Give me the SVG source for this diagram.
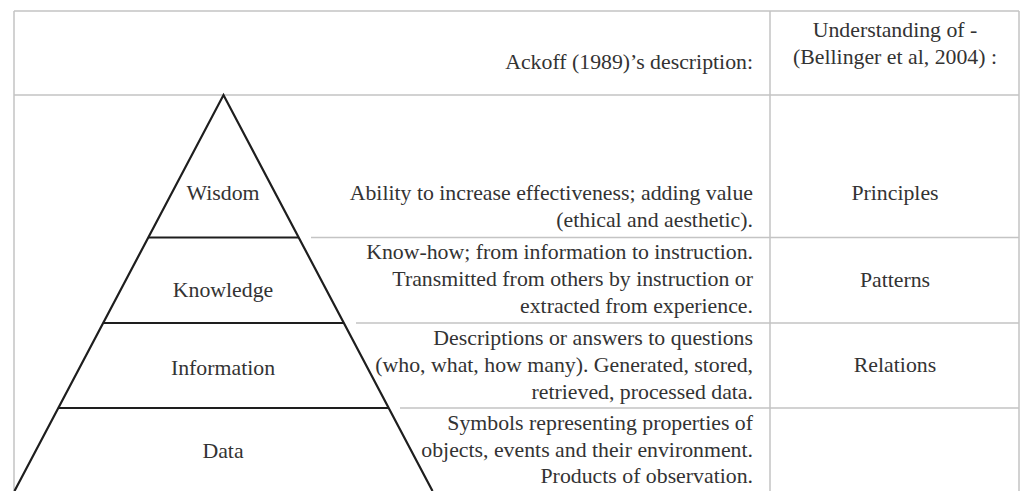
<svg xmlns="http://www.w3.org/2000/svg" width="1022" height="491" viewBox="0 0 1022 491">
<style>
.grid{stroke:#c4c4c4;stroke-width:1.5;fill:none}
.pyr{stroke:#1e1e1e;stroke-width:2.2;fill:none;stroke-linejoin:miter}
text{font-family:'Liberation Serif','Tinos','Noto Serif','DejaVu Serif','Times New Roman',serif;font-size:21.8px;fill:#333}
.r{text-anchor:end}
.c{text-anchor:middle}
</style>
<rect width="1022" height="491" fill="#fff"/>
<g id="table">
<path class="grid" d="M14,11 H1019 M14,11 V491 M770,11 V491 M1019,11 V491 M14,95 H1019 M311,237.5 H1019 M356,323 H1019 M400,408 H1019"/>
</g>
<g id="header">
<text class="r" x="753" y="69">Ackoff (1989)’s description:</text>
<text class="c" x="895" y="37">Understanding of -</text>
<text class="c" x="895" y="64">(Bellinger et al,  2004) :</text>
</g>
<g id="connectors">
<path class="pyr" d="M14.5,491 L223.5,95 L432.5,491"/>
<path class="pyr" d="M148,237.5 H299 M103,323 H344 M58,408 H388"/>
</g>
<g id="wisdom">
<text class="c" x="223" y="200">Wisdom</text>
<text class="r" x="753" y="200">Ability to increase effectiveness; adding value</text>
<text class="r" x="753" y="227">(ethical and aesthetic).</text>
<text class="c" x="895" y="200">Principles</text>
</g>
<g id="knowledge">
<text class="c" x="223" y="297">Knowledge</text>
<text class="r" x="753" y="259">Know-how; from information to instruction.</text>
<text class="r" x="753" y="286">Transmitted from others by instruction or</text>
<text class="r" x="753" y="313">extracted from experience.</text>
<text class="c" x="895" y="287">Patterns</text>
</g>
<g id="information">
<text class="c" x="223" y="375">Information</text>
<text class="r" x="753" y="345">Descriptions or answers to questions</text>
<text class="r" x="753" y="372">(who, what, how many). Generated, stored,</text>
<text class="r" x="753" y="399">retrieved, processed data.</text>
<text class="c" x="895" y="372">Relations</text>
</g>
<g id="data">
<text class="c" x="223" y="458">Data</text>
<text class="r" x="753" y="430">Symbols representing properties of</text>
<text class="r" x="753" y="457">objects, events and their environment.</text>
<text class="r" x="753" y="483">Products of observation.</text>
</g>
</svg>
